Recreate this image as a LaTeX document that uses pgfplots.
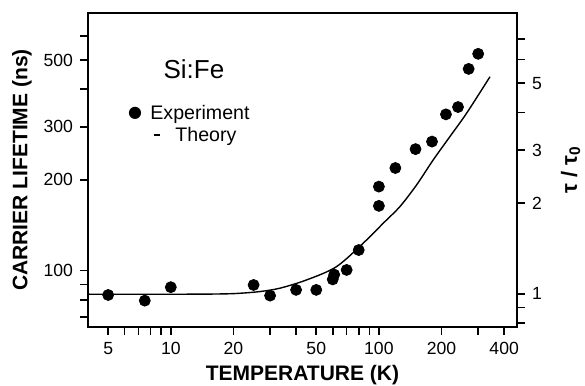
\documentclass[border=0pt]{standalone}
\usepackage{pgfplots}
\pgfplotsset{compat=1.18}
\usepackage{fontspec}
\setmainfont{Liberation Sans}
\newfontfamily\dejavu{DejaVu Sans}
\begin{document}
\begin{tikzpicture}
\begin{axis}[
  scale only axis, width=214.5pt, height=157pt,
  xmode=log, ymode=log,
  xmin=4, xmax=461, ymin=65, ymax=716,
  axis line style={line width=0.8pt},
  tick align=outside, tick style={line width=0.8pt, black}, major tick length=4pt,
  xtick pos=bottom, ytick pos=left,
  xtick={5,6,7,8,9,10,20,30,40,50,60,70,80,90,100,200,300,400},
  xticklabels={5,,,,,10,20,,,50,,,,,100,200,,400},
  ytick={70,80,90,100,200,300,400,500,600},
  yticklabels={,,,100,200,300,,500,},
  minor tick num=0,
  tick label style={font=\fontsize{8.8}{10}\selectfont},
  /pgf/number format/assume math mode=true,
  xlabel={\bfseries TEMPERATURE (K)},
  ylabel={\bfseries CARRIER LIFETIME (ns)},
  label style={font=\fontsize{10.5}{12}\selectfont},
  xlabel style={yshift=-2pt, inner sep=0pt},
  ylabel style={yshift=-1pt},
]
\addplot[only marks, mark=*, mark size=2.75pt, black]
  table {
  x y
  5 83.0
  7.5 79.5
  10 88.1
  25 89.6
  30 82.6
  40 86.3
  50 86.3
  60 93.5
  61 97
  70 100.5
  80 117
  100 164
  100 190
  120 219
  150 253
  180 268
  210 330
  240 349
  270 467
  300 524
  };
\addplot[black, line width=0.7pt, smooth, no marks]
  table {
  x y
  4 83.5
  12 83.5
  18 83.7
  21.5 84.1
  26.8 85.2
  33.4 87.4
  44.9 93.1
  62.6 103.1
  85.6 124.8
  104.9 143.6
  126.2 163.1
  151.8 192.5
  182.4 233
  219.4 278.4
  264 333
  342 440
  };
\node[font=\fontsize{13}{15}\selectfont] at (axis description cs:0.247,0.822) {Si:Fe};
\node[font=\dejavu\fontsize{8}{10}\selectfont, inner sep=0pt] at (axis description cs:0.1096,0.6815) {●};
\node[font=\fontsize{9.8}{11}\selectfont, inner sep=0pt, anchor=base west] at (axis description cs:0.1445,0.660) {Experiment};
\draw[black, line width=0.7pt] (axis description cs:0.155,0.6115) -- (axis description cs:0.168,0.6115);
\node[font=\fontsize{9.8}{11}\selectfont, inner sep=0pt, anchor=base west] at (axis description cs:0.2028,0.590) {Theory};
\end{axis}
\begin{axis}[
  scale only axis, width=214.5pt, height=157pt,
  xmode=log, ymode=log,
  xmin=4, xmax=461, ymin=0.7766, ymax=8.554,
  axis x line=none, axis y line*=right,
  axis line style={line width=0.8pt, -},
  tick align=outside, tick style={line width=0.8pt, black}, major tick length=4pt,
  ytick={0.8,0.9,1,2,3,4,5,6,7},
  yticklabels={,,1,2,3,,5,,},
  tick label style={font=\fontsize{8.8}{10}\selectfont},
  ylabel={\bfseries τ / τ\textsubscript{0}},
  ylabel style={font=\fontsize{11}{12}\selectfont, inner sep=0pt, yshift=-6pt},
]
\end{axis}
\path (-44pt,-28pt) rectangle (248.5pt,163.5pt);
\end{tikzpicture}
\end{document}
